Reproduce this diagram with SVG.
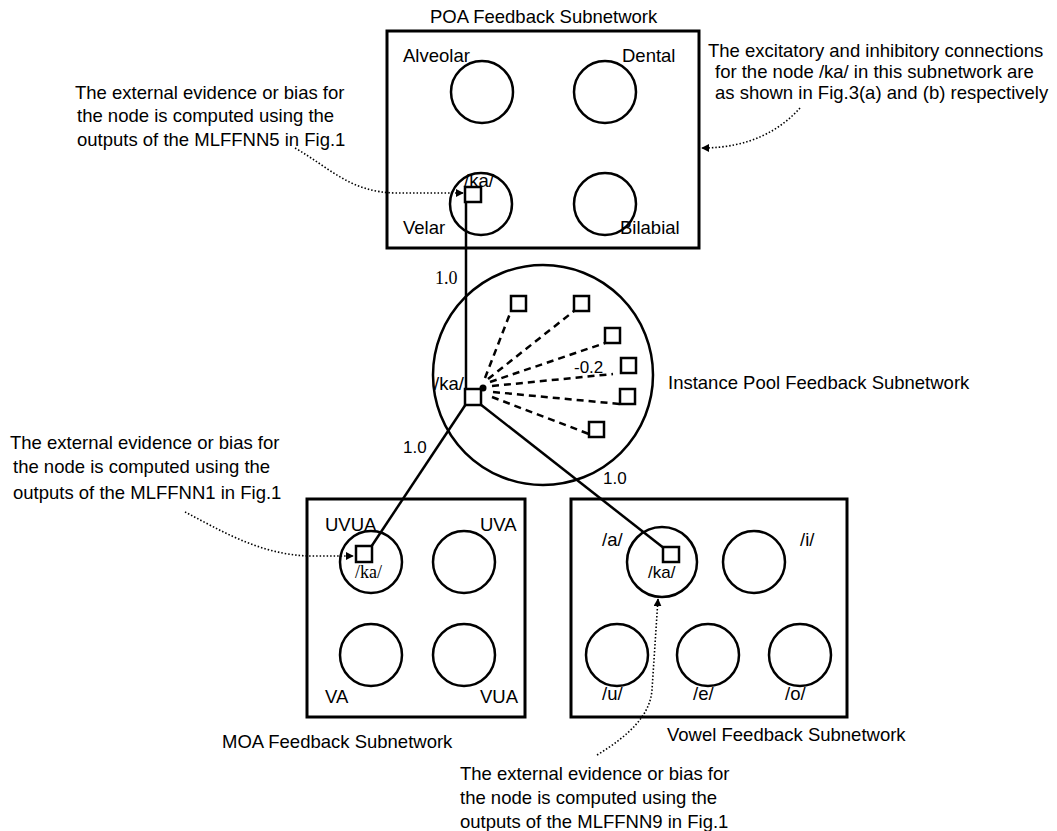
<svg xmlns="http://www.w3.org/2000/svg" width="1057" height="831" viewBox="0 0 1057 831">
<defs>
<style>
.box{fill:none;stroke:#000;stroke-width:3}
.nd{fill:none;stroke:#000;stroke-width:2.5}
.sq{fill:#fff;stroke:#000;stroke-width:2.5}
.t{font-family:"Liberation Sans",Arial,sans-serif;font-size:18.5px;fill:#000}
.s{font-family:"Liberation Sans",Arial,sans-serif;font-size:17px;fill:#000}
.r{font-family:"Liberation Serif","Times New Roman",serif;font-size:18px;fill:#000}
.ln{fill:none;stroke:#000;stroke-width:2.5}
.ds{fill:none;stroke:#000;stroke-width:2.5;stroke-dasharray:7 5}
.dt{fill:none;stroke:#000;stroke-width:1.6;stroke-dasharray:1.5 2;marker-end:url(#ah)}
</style>
<marker id="ah" viewBox="0 0 10 10" refX="9" refY="5" markerWidth="5" markerHeight="5" orient="auto" markerUnits="strokeWidth">
<path d="M0,0 L10,5 L0,10 z" fill="#000"/>
</marker>
</defs>
<rect width="1057" height="831" fill="#fff"/>

<g id="poa">
<text class="t" x="430" y="23">POA Feedback Subnetwork</text>
<rect class="box" x="387" y="31" width="312" height="217"/>
<circle class="nd" cx="482" cy="92" r="31"/>
<circle class="nd" cx="605" cy="92" r="31"/>
<circle class="nd" cx="481" cy="204" r="31"/>
<circle class="nd" cx="605" cy="204" r="31"/>
<text class="t" x="403" y="62">Alveolar</text>
<text class="t" x="622" y="62">Dental</text>
<text class="t" x="403" y="234">Velar</text>
<text class="t" x="620" y="234">Bilabial</text>
<text class="t" x="464" y="187">/ka/</text>
</g>

<g id="pool">
<circle class="nd" cx="543" cy="375" r="110"/>
<text class="t" x="434" y="390">/ka/</text>
<text class="s" x="574" y="373">-0.2</text>
<text class="t" x="668" y="389">Instance Pool Feedback Subnetwork</text>
<rect class="sq" x="511" y="296" width="15" height="15"/>
<rect class="sq" x="574" y="296" width="15" height="15"/>
<rect class="sq" x="605" y="328" width="15" height="15"/>
<rect class="sq" x="621" y="358" width="15" height="15"/>
<rect class="sq" x="620" y="389" width="15" height="15"/>
<rect class="sq" x="589" y="422" width="15" height="15"/>
</g>

<g id="moa">
<rect class="box" x="307" y="499" width="218" height="218"/>
<circle class="nd" cx="371" cy="562" r="31"/>
<circle class="nd" cx="464" cy="562" r="31"/>
<circle class="nd" cx="371" cy="655" r="31"/>
<circle class="nd" cx="464" cy="655" r="31"/>
<text class="t" x="325" y="531">UVUA</text>
<text class="t" x="480" y="531">UVA</text>
<text class="t" x="325" y="703">VA</text>
<text class="t" x="480" y="703">VUA</text>
<text class="r" x="355" y="578" font-size="17">/ka/</text>
<text class="t" x="222" y="748">MOA Feedback Subnetwork</text>
</g>

<g id="vowel">
<rect class="box" x="571" y="499" width="276" height="218"/>
<circle class="nd" cx="662" cy="562" r="35"/>
<circle class="nd" cx="754" cy="562" r="31"/>
<circle class="nd" cx="617" cy="655" r="31"/>
<circle class="nd" cx="708" cy="655" r="31"/>
<circle class="nd" cx="800" cy="655" r="31"/>
<text class="t" x="602" y="546">/a/</text>
<text class="t" x="800" y="546">/i/</text>
<text class="t" x="602" y="700">/u/</text>
<text class="t" x="693" y="700">/e/</text>
<text class="t" x="785" y="700">/o/</text>
<text class="s" x="648" y="578">/ka/</text>
<text class="t" x="667" y="741">Vowel Feedback Subnetwork</text>
</g>

<g id="notes">
<text class="t" x="75" y="99">The external evidence or bias for</text>
<text class="t" x="77" y="122">the node is computed using the</text>
<text class="t" x="77" y="146">outputs of the MLFFNN5 in Fig.1</text>
<text class="t" x="708" y="57">The excitatory and inhibitory connections</text>
<text class="t" x="715" y="78">for the node /ka/ in this subnetwork are</text>
<text class="t" x="715" y="99">as shown in Fig.3(a) and (b) respectively</text>
<text class="t" x="10" y="449">The external evidence or bias for</text>
<text class="t" x="13" y="473">the node is computed using the</text>
<text class="t" x="13" y="499">outputs of the MLFFNN1 in Fig.1</text>
<text class="t" x="460" y="780">The external evidence or bias for</text>
<text class="t" x="460" y="804">the node is computed using the</text>
<text class="t" x="460" y="828">outputs of the MLFFNN9 in Fig.1</text>
</g>

<g id="connectors">
<line class="ln" x1="466" y1="202" x2="466" y2="389"/>
<line class="ln" x1="466" y1="404" x2="371" y2="547"/>
<line class="ln" x1="480" y1="404" x2="665" y2="549"/>
<path class="ds" d="M485,378 L511,311"/>
<path class="ds" d="M488,379 L574,311"/>
<path class="ds" d="M490,382 L605,343"/>
<path class="ds" d="M492,386 L613,374"/>
<path class="ds" d="M493,392 L620,404"/>
<path class="ds" d="M492,397 L589,434"/>
<circle cx="483" cy="388" r="3.5" fill="#000"/>
<text class="r" x="435" y="284">1.0</text>
<text class="s" x="403" y="453">1.0</text>
<text class="s" x="603" y="484">1.0</text>
<path class="dt" d="M295,148 C330,168 350,192 395,193 L463,193"/>
<path class="dt" d="M800,108 C780,130 750,148 702,148"/>
<path class="dt" d="M185,512 C220,530 260,555 310,556 L353,556"/>
<path class="dt" d="M597,755 C630,735 650,715 652,690 L658,599"/>
</g>

<rect class="sq" x="465" y="187" width="16" height="15"/>
<rect class="sq" x="465" y="389" width="16" height="16"/>
<rect class="sq" x="356" y="546" width="16" height="16"/>
<rect class="sq" x="663" y="547" width="16" height="15"/>
</svg>
